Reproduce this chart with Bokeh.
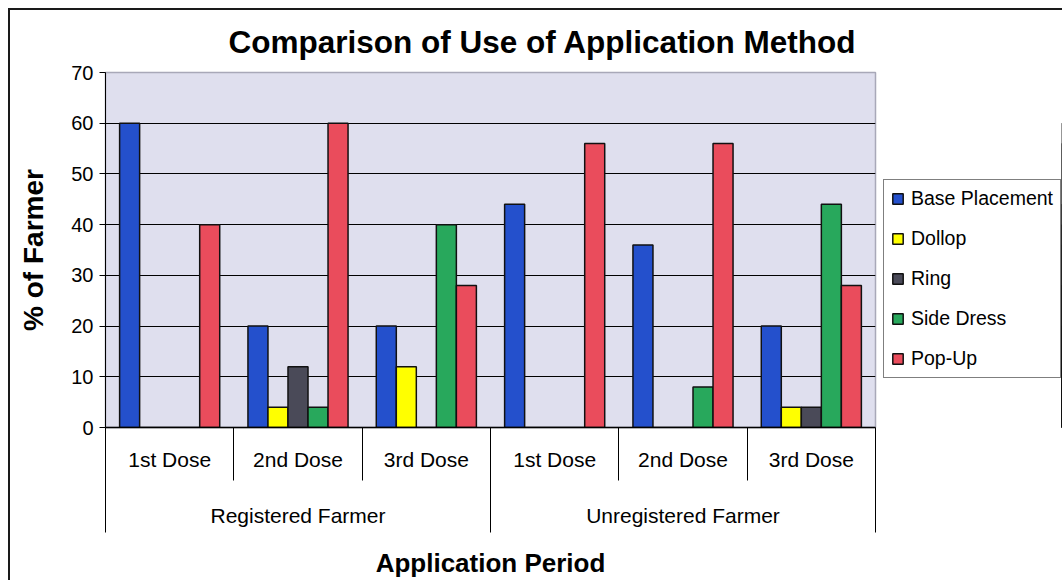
from bokeh.plotting import figure
from bokeh.layouts import row
from bokeh.models import (Range1d, FixedTicker, LinearAxis, Legend, LegendItem,
                          ColumnDataSource, Title)
from bokeh.embed import file_html
from bokeh.resources import INLINE

# ---- data -------------------------------------------------------------
doses = ["1st Dose", "2nd Dose", "3rd Dose", "1st Dose", "2nd Dose", "3rd Dose"]
farmers = ["Registered Farmer", "Unregistered Farmer"]
methods = ["Base Placement", "Dollop", "Ring", "Side Dress", "Pop-Up"]

base_placement = [60, 20, 20, 44, 36, 20]
dollop = [0, 4, 12, 0, 0, 4]
ring = [0, 12, 0, 0, 0, 4]
side_dress = [0, 4, 40, 0, 8, 44]
pop_up = [40, 60, 28, 56, 56, 28]

y_ticks = [0, 10, 20, 30, 40, 50, 60, 70]

series = [base_placement, dollop, ring, side_dress, pop_up]
colors = ["#2450cc", "#ffff00", "#4a4a58", "#28a85c", "#ea4c5c"]

FONT = "Liberation Sans"
BAR_W = 0.156
BAR_LINE = dict(line_color="#111111", line_width=1.5)

# ---- main chart -------------------------------------------------------
p = figure(width=883, height=580, x_range=Range1d(0, len(doses)),
           y_range=Range1d(0, 70), x_axis_location=None,
           output_backend="svg", toolbar_location=None,
           min_border_left=105, min_border_right=8,
           min_border_top=72, min_border_bottom=153)

p.background_fill_color = "#dfdfee"
p.border_fill_color = None
p.outline_line_color = "#a8a8b8"
p.outline_line_width = 1.5

p.title = Title(text="Comparison of Use of Application Method", align="left",
                offset=123, text_font=FONT, text_font_size="31.5px",
                text_font_style="bold", text_color="black", standoff=26)

# horizontal gridlines
p.xgrid.visible = False
p.ygrid.ticker = FixedTicker(ticks=y_ticks[1:-1])
p.ygrid.grid_line_color = "black"
p.ygrid.grid_line_width = 1

# y axis
ya = p.yaxis[0]
ya.ticker = FixedTicker(ticks=y_ticks)
ya.axis_label = "% of Farmer"
ya.axis_label_text_font = FONT
ya.axis_label_text_font_size = "28px"
ya.axis_label_text_font_style = "bold"
ya.axis_label_text_color = "black"
ya.axis_label_standoff = 19
ya.major_label_text_font = FONT
ya.major_label_text_font_size = "20px"
ya.major_label_text_color = "black"
ya.major_label_standoff = 6
ya.major_tick_out = 6
ya.major_tick_in = 0
ya.minor_tick_out = 0
ya.minor_tick_in = 0
ya.axis_line_color = "black"
ya.major_tick_line_color = "black"

# bars, one renderer per method, dodged within each dose slot
centers = [i + 0.5 for i in range(len(doses))]
sources = []
for k, (vals, col) in enumerate(zip(series, colors)):
    xs = [c + (k - 2) * BAR_W for c in centers]
    src = ColumnDataSource(dict(x=xs, top=vals))
    sources.append(src)
    p.vbar(x="x", top="top", bottom=0, width=BAR_W, source=src,
           fill_color=col, **BAR_LINE)

# inner category axis: dose labels, separators between doses
dose_pos = centers
ax1 = LinearAxis(ticker=FixedTicker(ticks=dose_pos,
                                    minor_ticks=list(range(len(doses) + 1))))
ax1.major_label_overrides = {pos: lab for pos, lab in zip(dose_pos, doses)}
ax1.major_label_text_font = FONT
ax1.major_label_text_font_size = "21px"
ax1.major_label_text_color = "black"
ax1.major_label_standoff = -33
ax1.major_tick_out = 0
ax1.major_tick_in = 0
ax1.minor_tick_in = 0
ax1.minor_tick_out = 53
ax1.minor_tick_line_color = "black"
ax1.axis_line_color = "black"
ax1.axis_line_width = 1.5
p.add_layout(ax1, "below")

# outer category axis: farmer group labels and group separators
group_pos = [1.5, 4.5]
ax2 = LinearAxis(ticker=FixedTicker(ticks=group_pos, minor_ticks=[0, 3, 6]))
ax2.major_label_overrides = {pos: lab for pos, lab in zip(group_pos, farmers)}
ax2.major_label_text_font = FONT
ax2.major_label_text_font_size = "21px"
ax2.major_label_text_color = "black"
ax2.major_label_standoff = -29
ax2.major_tick_out = 0
ax2.major_tick_in = 0
ax2.minor_tick_in = 0
ax2.minor_tick_out = 59
ax2.minor_tick_line_color = "black"
ax2.axis_line_color = None
ax2.axis_label = "Application Period"
ax2.axis_label_text_font = FONT
ax2.axis_label_text_font_size = "26px"
ax2.axis_label_text_font_style = "bold"
ax2.axis_label_text_color = "black"
ax2.axis_label_standoff = 18
p.add_layout(ax2, "below")

# ---- legend panel to the right ----------------------------------------
# its frame lines up with the main chart's frame; the view range is kept
# away from the data so only the legend swatches show
pl = figure(width=179, height=580, x_range=Range1d(-20, -19),
            y_range=Range1d(0, 70), x_axis_location=None,
            y_axis_location=None, min_border=0,
            output_backend="svg", toolbar_location=None)
pl.outline_line_color = None
pl.background_fill_color = None
pl.border_fill_color = None
pl.grid.visible = False

items = []
for name, col, src in zip(methods, colors, sources):
    swatch = pl.vbar(x="x", top="top", bottom=0, width=BAR_W, source=src,
                     fill_color=col, **BAR_LINE)
    items.append(LegendItem(label=name, renderers=[swatch]))

legend = Legend(items=items, location=(0, 49))
legend.label_text_font = FONT
legend.label_text_font_size = "19.5px"
legend.label_text_color = "black"
legend.glyph_width = 13
legend.glyph_height = 13
legend.label_standoff = 7
legend.label_height = 20
legend.spacing = 17
legend.padding = 7
legend.margin = 0
legend.border_line_color = "black"
legend.border_line_width = 1
legend.background_fill_color = "white"
legend.background_fill_alpha = 1
pl.add_layout(legend)

layout = row(p, pl, spacing=0)

# white page with a thin dark rule along the top and left edges
rule = "linear-gradient(#1a1a1a, #1a1a1a)"
layout.styles = {
    "background": (f"{rule} 8px 8px / 100% 2px no-repeat, "
                   f"{rule} 8px 8px / 2px 100% no-repeat, white"),
}

open("out.html", "w").write(file_html(layout, INLINE))
